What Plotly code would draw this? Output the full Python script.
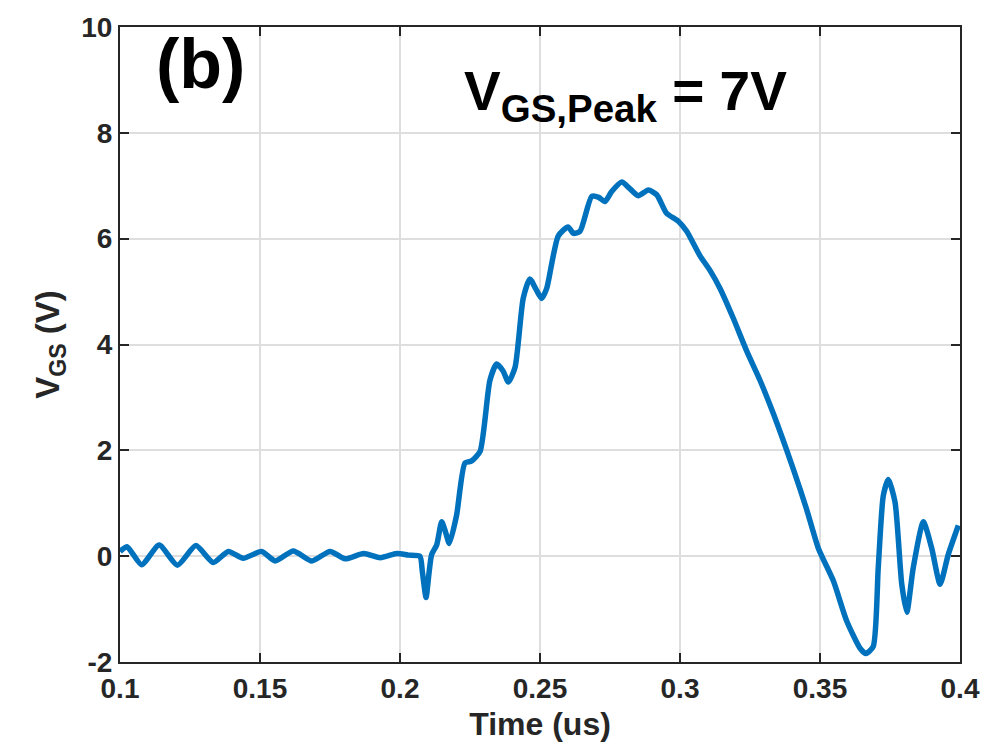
import plotly.graph_objects as go

time_us = [0.1000, 0.1025, 0.1077, 0.1140, 0.1205, 0.1271, 0.1333, 0.1387, 0.1440, 0.1506,
           0.1554, 0.1619, 0.1685, 0.1750, 0.1804, 0.1870, 0.1930, 0.1988, 0.2030, 0.2071,
           0.2080, 0.2093, 0.2104, 0.2113, 0.2131, 0.2149, 0.2163, 0.2176, 0.2202, 0.2232,
           0.2256, 0.2286, 0.2321, 0.2345, 0.2368, 0.2387, 0.2411, 0.2440, 0.2464, 0.2485,
           0.2506, 0.2524, 0.2565, 0.2600, 0.2620, 0.2643, 0.2685, 0.2710, 0.2732, 0.2756,
           0.2792, 0.2820, 0.2851, 0.2887, 0.2917, 0.2952, 0.2994, 0.3024, 0.3071, 0.3107,
           0.3143, 0.3190, 0.3238, 0.3286, 0.3333, 0.3405, 0.3452, 0.3494, 0.3548, 0.3595,
           0.3643, 0.3664, 0.3690, 0.3708, 0.3726, 0.3744, 0.3768, 0.3792, 0.3810, 0.3833,
           0.3869, 0.3899, 0.3929, 0.3958, 0.3994]
vgs = [0.09, 0.18, -0.16, 0.21, -0.17, 0.20, -0.12, 0.09, -0.04, 0.09,
       -0.09, 0.10, -0.09, 0.09, -0.05, 0.05, -0.03, 0.05, 0.02, 0.00,
       -0.30, -0.78, -0.30, 0.03, 0.21, 0.65, 0.45, 0.24, 0.77, 1.76,
       1.80, 1.98, 3.32, 3.63, 3.50, 3.29, 3.57, 4.87, 5.24, 5.05,
       4.87, 5.06, 6.05, 6.22, 6.10, 6.14, 6.80, 6.78, 6.70, 6.89,
       7.07, 6.95, 6.81, 6.92, 6.83, 6.48, 6.33, 6.14, 5.68, 5.40,
       5.06, 4.50, 3.88, 3.32, 2.70, 1.64, 0.89, 0.15, -0.47, -1.22,
       -1.74, -1.84, -1.71, -0.22, 1.14, 1.45, 1.02, -0.53, -1.06, -0.22,
       0.65, 0.15, -0.53, 0.03, 0.58]

x_ticks = [0.1, 0.15, 0.2, 0.25, 0.3, 0.35, 0.4]
x_tick_text = ["0.1", "0.15", "0.2", "0.25", "0.3", "0.35", "0.4"]
y_ticks = [-2, 0, 2, 4, 6, 8, 10]
y_tick_text = ["-2", "0", "2", "4", "6", "8", "10"]

FONT = "Liberation Sans, Arial, sans-serif"

fig = go.Figure()
fig.add_trace(go.Scatter(
    x=time_us, y=vgs, mode="lines",
    line=dict(color="#0072BD", width=5.5, shape="spline", smoothing=0.6),
    showlegend=False, hoverinfo="skip",
))

axis_common = dict(
    showline=True, linecolor="#262626", linewidth=2, mirror="ticks",
    ticks="inside", ticklen=9, tickwidth=2, tickcolor="#262626",
    showgrid=True, gridcolor="#DEDEDE", gridwidth=1.5,
    zeroline=False,
    tickfont=dict(family=FONT, size=28, color="#262626", weight="bold"),
)

fig.update_layout(
    width=1005, height=753,
    margin=dict(l=120, r=45, t=18, b=91),
    paper_bgcolor="white", plot_bgcolor="white",
    font=dict(family=FONT, color="#262626"),
    xaxis=dict(range=[0.1, 0.4], tickvals=x_ticks, ticktext=x_tick_text,
               title=dict(text="<b>Time (us)</b>", font=dict(family=FONT, size=32, color="#262626"), standoff=10),
               **axis_common),
    yaxis=dict(range=[-2, 10], tickvals=y_ticks, ticktext=y_tick_text,
               title=dict(text="<b>V<sub>GS</sub> (V)</b>", font=dict(family=FONT, size=33, color="#262626"), standoff=12),
               **axis_common),
    annotations=[
        dict(x=0.1286, y=9.3, xref="x", yref="y", text="<b>(b)</b>", showarrow=False,
             font=dict(family=FONT, size=70, color="black"), xanchor="center", yanchor="middle"),
        dict(x=0.2804, y=8.72, xref="x", yref="y", text="<b>V<sub>GS,Peak</sub> = 7V</b>", showarrow=False,
             font=dict(family=FONT, size=55, color="black"), xanchor="center", yanchor="middle"),
    ],
)

fig.write_html("out.html")
